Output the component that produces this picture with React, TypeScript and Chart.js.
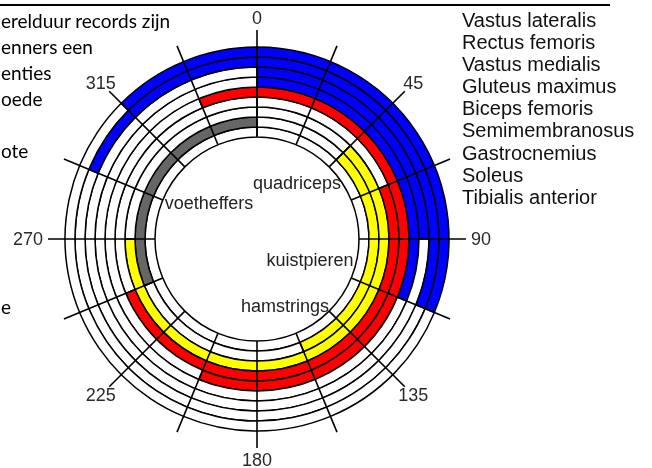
import React, { useEffect, useRef } from 'react';
import { Chart, ArcElement, DoughnutController } from 'chart.js';

Chart.register(ArcElement, DoughnutController);

// ---------- data ----------
const muscles = [
  'Vastus lateralis',
  'Rectus femoris',
  'Vastus medialis',
  'Gluteus maximus',
  'Biceps femoris',
  'Semimembranosus',
  'Gastrocnemius',
  'Soleus',
  'Tibialis anterior',
];

const groupColors: Record<string, string> = {
  quadriceps: '#0000ff',
  hamstrings: '#ff0000',
  kuistpieren: '#ffff00',
  voetheffers: '#666666',
};

// activity arcs per ring (outer -> inner), degrees clockwise from 0 at the top
const ring1 = [{ from: 315, to: 112.5, group: 'quadriceps' }];
const ring2 = [{ from: 292.5, to: 112.5, group: 'quadriceps' }];
const ring3 = [{ from: 0, to: 90, group: 'quadriceps' }];
const ring4 = [{ from: 0, to: 112.5, group: 'quadriceps' }];
const ring5 = [{ from: 337.5, to: 202.5, group: 'hamstrings' }];
const ring6 = [{ from: 67.5, to: 247.5, group: 'hamstrings' }];
const ring7 = [{ from: 45, to: 270, group: 'kuistpieren' }];
const ring8 = [
  { from: 45, to: 157.5, group: 'kuistpieren' },
  { from: 247.5, to: 360, group: 'voetheffers' },
];
const ring9: { from: number; to: number; group: string }[] = [];

const rings = [ring1, ring2, ring3, ring4, ring5, ring6, ring7, ring8, ring9];

const tickAngles = [0, 22.5, 45, 67.5, 90, 112.5, 135, 157.5, 180, 202.5, 225, 247.5, 270, 292.5, 315, 337.5];
const tickLabels = ['0', '', '45', '', '90', '', '135', '', '180', '', '225', '', '270', '', '315', ''];

const groupLabels = ['quadriceps', 'voetheffers', 'kuistpieren', 'hamstrings'];

const sideText = ['erelduur records zijn', 'enners een', 'enties', 'oede', 'ote', 'e'];

// ---------- helpers ----------
function toSegments(arcs: { from: number; to: number; group: string }[]) {
  const pieces: { from: number; to: number; color: string }[] = [];
  arcs.forEach((a) => {
    const c = groupColors[a.group];
    if (a.from > a.to) {
      pieces.push({ from: a.from, to: 360, color: c });
      if (a.to > 0) pieces.push({ from: 0, to: a.to, color: c });
    } else {
      pieces.push({ from: a.from, to: a.to, color: c });
    }
  });
  pieces.sort((p, q) => p.from - q.from);
  const data: number[] = [];
  const colors: string[] = [];
  let pos = 0;
  pieces.forEach((p) => {
    if (p.from > pos) {
      data.push(p.from - pos);
      colors.push('#ffffff');
    }
    data.push(p.to - p.from);
    colors.push(p.color);
    pos = p.to;
  });
  if (pos < 360) {
    data.push(360 - pos);
    colors.push('#ffffff');
  }
  return { data, colors };
}

const spokesPlugin = {
  id: 'spokes',
  afterDatasetsDraw(chart: any) {
    const n = chart.data.datasets.length;
    const outer = chart.getDatasetMeta(0).data[0] as any;
    const inner = chart.getDatasetMeta(n - 1).data[0] as any;
    const cx = outer.x;
    const cy = outer.y;
    const rOut = outer.outerRadius;
    const rIn = inner.innerRadius;
    const ctx = chart.ctx as CanvasRenderingContext2D;
    ctx.save();
    ctx.strokeStyle = '#000';
    ctx.lineWidth = 1.6;
    ctx.font = '18px "Liberation Sans", Arial, sans-serif';
    ctx.fillStyle = '#2a2a2a';
    tickAngles.forEach((deg, i) => {
      const t = (deg * Math.PI) / 180;
      const sx = Math.sin(t);
      const sy = -Math.cos(t);
      ctx.beginPath();
      ctx.moveTo(cx + sx * rIn, cy + sy * rIn);
      ctx.lineTo(cx + sx * (rOut + 17), cy + sy * (rOut + 17));
      ctx.stroke();
      const label = tickLabels[i];
      if (!label) return;
      if (deg === 90 || deg === 270) {
        const r = rOut + 22;
        ctx.textAlign = deg === 90 ? 'left' : 'right';
        ctx.textBaseline = 'middle';
        ctx.fillText(label, cx + sx * r, cy + sy * r + 1);
      } else {
        const r = rOut + 29;
        ctx.textAlign = 'center';
        ctx.textBaseline = 'middle';
        ctx.fillText(label, cx + sx * r, cy + sy * r + 1);
      }
    });
    ctx.restore();
  },
};

export default function App() {
  const ref = useRef<HTMLCanvasElement | null>(null);

  useEffect(() => {
    if (!ref.current) return;
    const datasets = rings.map((r, i) => {
      const s = toSegments(r);
      return {
        label: muscles[i],
        data: s.data,
        backgroundColor: s.colors,
        borderColor: '#000000',
        borderWidth: 1.5,
        hoverOffset: 0,
      };
    });
    const chart = new Chart(ref.current, {
      type: 'doughnut',
      data: { datasets },
      options: {
        animation: false,
        responsive: false,
        devicePixelRatio: 1,
        radius: 192,
        cutout: '53.125%',
        layout: { padding: { left: 65, right: 203, top: 47, bottom: 37 } },
        plugins: { legend: { display: false }, tooltip: { enabled: false } },
        events: [],
      } as any,
      plugins: [spokesPlugin],
    });
    return () => chart.destroy();
  }, []);

  const sans = '"Liberation Sans", Arial, sans-serif';
  const groupPos = [
    { x: 297, y: 183 },
    { x: 209, y: 203 },
    { x: 310, y: 260 },
    { x: 285, y: 306 },
  ];
  const sidePos = [21, 47, 73, 99, 151, 307];

  return (
    <div style={{ position: 'absolute', left: 0, top: 0, width: 652, height: 468, background: '#fff', overflow: 'hidden' }}>
      <canvas ref={ref} width={652} height={468} style={{ position: 'absolute', left: 0, top: 0, width: 652, height: 468 }} />
      <div style={{ position: 'absolute', left: 0, top: 4, width: 610, height: 2, background: '#000' }} />
      {sideText.map((t, i) => (
        <div key={t} style={{ position: 'absolute', left: 1, top: sidePos[i] - 12, height: 24, lineHeight: '24px', fontFamily: 'Lato, sans-serif', fontSize: 19, color: '#000', whiteSpace: 'nowrap' }}>
          {t}
        </div>
      ))}
      {groupLabels.map((t, i) => (
        <div key={t} style={{ position: 'absolute', left: groupPos[i].x - 60, width: 120, textAlign: 'center', top: groupPos[i].y - 11, height: 22, lineHeight: '22px', fontFamily: sans, fontSize: 18, color: '#222' }}>
          {t}
        </div>
      ))}
      <div style={{ position: 'absolute', left: 462, top: 9, fontFamily: sans, fontSize: 20, lineHeight: '22.1px', color: '#111' }}>
        {muscles.map((m) => (
          <div key={m} style={{ whiteSpace: 'nowrap' }}>{m}</div>
        ))}
      </div>
    </div>
  );
}
